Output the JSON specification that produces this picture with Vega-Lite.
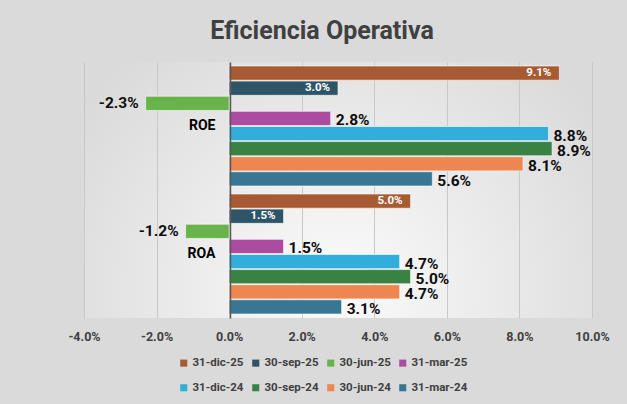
{
  "$schema": "https://vega.github.io/schema/vega-lite/v6.json",
  "autosize": "none",
  "width": 508,
  "height": 256,
  "padding": {"left": 84, "top": 62, "right": 35, "bottom": 86},
  "background": "#DADADA",
  "view": {"stroke": null, "fill": {"gradient": "radial", "x1": 0.5, "y1": 0.7, "r1": 0, "x2": 0.5, "y2": 0.7, "r2": 0.62, "stops": [{"offset": 0, "color": "#FBFBFB"}, {"offset": 1, "color": "#DADADA"}]}},
  "title": {"text": "Eficiencia Operativa", "anchor": "middle", "dx": -16, "offset": 18, "fontSize": 25, "font": "Roboto", "fontWeight": "bold", "color": "#404040"},
  "config": {
    "locale": {"number": {"decimal": ".", "thousands": ",", "grouping": [3], "currency": ["$", ""], "minus": "-"}},
    "font": "Roboto"
  },
  "data": {"values": [
    {"ratio": "ROE", "serie": "31-dic-25", "v": 0.091},
    {"ratio": "ROE", "serie": "30-sep-25", "v": 0.030},
    {"ratio": "ROE", "serie": "30-jun-25", "v": -0.023},
    {"ratio": "ROE", "serie": "31-mar-25", "v": 0.028},
    {"ratio": "ROE", "serie": "31-dic-24", "v": 0.088},
    {"ratio": "ROE", "serie": "30-sep-24", "v": 0.089},
    {"ratio": "ROE", "serie": "30-jun-24", "v": 0.081},
    {"ratio": "ROE", "serie": "31-mar-24", "v": 0.056},
    {"ratio": "ROA", "serie": "31-dic-25", "v": 0.050},
    {"ratio": "ROA", "serie": "30-sep-25", "v": 0.015},
    {"ratio": "ROA", "serie": "30-jun-25", "v": -0.012},
    {"ratio": "ROA", "serie": "31-mar-25", "v": 0.015},
    {"ratio": "ROA", "serie": "31-dic-24", "v": 0.047},
    {"ratio": "ROA", "serie": "30-sep-24", "v": 0.050},
    {"ratio": "ROA", "serie": "30-jun-24", "v": 0.047},
    {"ratio": "ROA", "serie": "31-mar-24", "v": 0.031}
  ]},
  "encoding": {
    "y": {"field": "ratio", "type": "nominal", "sort": ["ROE", "ROA"],
      "scale": {"paddingInner": 0.0625, "paddingOuter": 0.03125},
      "axis": {"title": null, "offset": -146, "ticks": false, "domainColor": "#595959", "domainWidth": 1.5, "labelPadding": 15, "labelFontSize": 14, "labelFontWeight": "bold", "labelColor": "#000000", "labelFont": "Roboto", "zindex": 2}},
    "yOffset": {"field": "serie", "type": "nominal",
      "sort": ["31-dic-25", "30-sep-25", "30-jun-25", "31-mar-25", "31-dic-24", "30-sep-24", "30-jun-24", "31-mar-24"],
      "scale": {"paddingInner": 0.06, "paddingOuter": 0}},
    "x": {"field": "v", "type": "quantitative",
      "scale": {"domain": [-0.04, 0.10], "nice": false, "zero": false},
      "axis": {"title": null, "format": ".1%", "values": [-0.04, -0.02, 0, 0.02, 0.04, 0.06, 0.08, 0.10], "domain": false, "ticks": false, "grid": true, "gridColor": "#C8C8C8", "gridWidth": 1, "labelFlush": false, "labelPadding": 12, "labelFontSize": 12.5, "labelFontWeight": "bold", "labelColor": "#404040", "labelFont": "Roboto", "zindex": 0}}
  },
  "layer": [
    {
      "mark": {"type": "bar", "stroke": "white", "strokeWidth": 1, "strokeOpacity": 0.6},
      "encoding": {
        "color": {"field": "serie", "type": "nominal",
          "sort": ["31-dic-25", "30-sep-25", "30-jun-25", "31-mar-25", "31-dic-24", "30-sep-24", "30-jun-24", "31-mar-24"],
          "scale": {"domain": ["31-dic-25", "30-sep-25", "30-jun-25", "31-mar-25", "31-dic-24", "30-sep-24", "30-jun-24", "31-mar-24"],
            "range": ["#A65B33", "#2E5567", "#69B34C", "#AC4CA0", "#33ADDB", "#3A8244", "#ED8651", "#377793"]},
          "legend": {"title": null, "orient": "none", "legendX": 94, "legendY": 295, "columns": 4, "direction": "horizontal",
            "symbolType": "square", "symbolSize": 50, "symbolStrokeWidth": 0, "labelFontSize": 11.5, "labelFontWeight": "bold", "labelColor": "#404040", "labelFont": "Roboto",
            "columnPadding": 6, "rowPadding": 12, "labelOffset": 3, "padding": 0}}
      }
    },
    {
      "transform": [{"filter": "datum.v > 0 && datum.serie != '31-dic-25' && datum.serie != '30-sep-25'"}],
      "mark": {"type": "text", "align": "left", "dx": 5, "dy": 2, "fontSize": 15.5, "fontWeight": "bold", "color": "#0D0D0D", "font": "Roboto"},
      "encoding": {"text": {"field": "v", "format": ".1%"}}
    },
    {
      "transform": [{"filter": "datum.v < 0"}],
      "mark": {"type": "text", "align": "right", "dx": -7, "fontSize": 15.5, "fontWeight": "bold", "color": "#0D0D0D", "font": "Roboto"},
      "encoding": {"text": {"field": "v", "format": ".1%"}}
    },
    {
      "transform": [{"filter": "datum.serie == '31-dic-25' || datum.serie == '30-sep-25'"}],
      "mark": {"type": "text", "align": "right", "dx": -8, "fontSize": 11.5, "fontWeight": "bold", "color": "#FFFFFF", "font": "Roboto"},
      "encoding": {"text": {"field": "v", "format": ".1%"}}
    }
  ]
}
